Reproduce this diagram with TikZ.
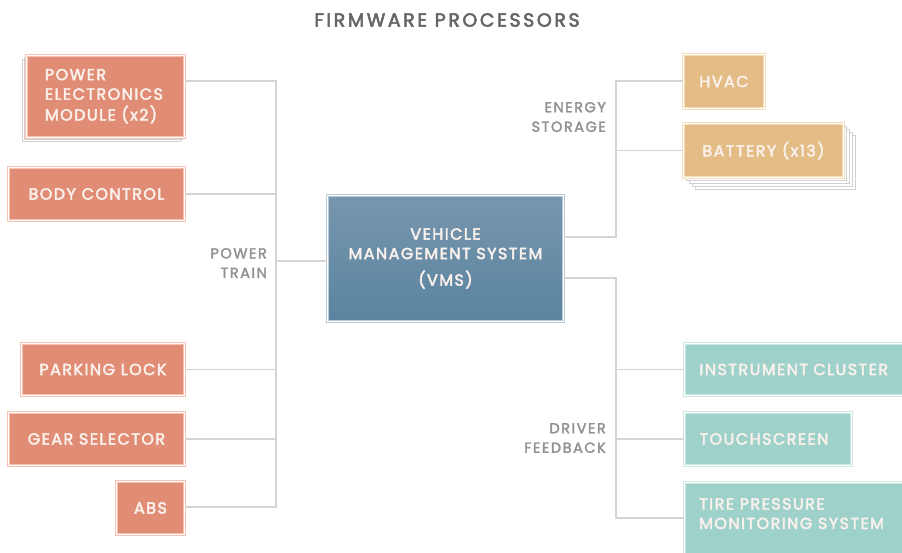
\documentclass[tikz,border=0pt]{standalone}
\usepackage{fontspec}
\setmainfont{Poppins}
\newfontfamily\boxfont[LetterSpace=9,FakeBold=2.8]{Poppins}
\newfontfamily\lblfont[LetterSpace=10.5,FakeBold=2.2]{Poppins}
\newfontfamily\titlefont[LetterSpace=13.5,FakeBold=2.8]{Poppins}
\definecolor{salfill}{HTML}{E18D76}
\definecolor{saledge}{HTML}{F6C3B3}
\definecolor{goldfill}{HTML}{E3BC86}
\definecolor{goldedge}{HTML}{F4DDB8}
\definecolor{tealfill}{HTML}{9FD1CB}
\definecolor{tealedge}{HTML}{CBE8E4}
\definecolor{vmstop}{HTML}{7896AD}
\definecolor{vmsbot}{HTML}{5A84A0}
\definecolor{vmsedge}{HTML}{B9CAD6}
\definecolor{linegray}{HTML}{D4D4D4}
\definecolor{lblgray}{HTML}{929292}
\definecolor{boxtext}{HTML}{FBF1EC}
\tikzset{
  basebox/.style={rectangle, anchor=north west, line width=0.9pt, double=white, double distance=0.9pt,
    text=boxtext, font=\boxfont\fontsize{16}{19.5}\selectfont, inner sep=0pt},
  salbox/.style={basebox, fill=salfill, draw=saledge},
  goldbox/.style={basebox, fill=goldfill, draw=goldedge},
  tealbox/.style={basebox, fill=tealfill, draw=tealedge},
  vmsbox/.style={basebox, top color=vmstop, bottom color=vmsbot, draw=vmsedge},
  stackbox/.style={rectangle, anchor=north west, fill=white, draw=black!18, line width=0.7pt, inner sep=0pt},
  conn/.style={draw=linegray, line width=1.3pt},
  grouplbl/.style={text=lblgray, font=\lblfont\fontsize{14.5}{19.5}\selectfont, align=right, anchor=east, inner sep=0pt}
}
\begin{document}
\begin{tikzpicture}[x=1pt,y=-1pt]
\useasboundingbox (0,0) rectangle (902,552);
\clip (0,0) rectangle (902,552);
\fill[white] (0,0) rectangle (902,552);
% title
\node[text=black!60, font=\titlefont\fontsize{19}{22}\selectfont, inner sep=0pt] (title) at (447,20) {FIRMWARE PROCESSORS};
% stacks
\node[stackbox, minimum width=158, minimum height=82] (pemS2) at (22,59) {};
\node[stackbox, minimum width=158, minimum height=82] (pemS1) at (24,57) {};
\foreach \o/\n in {12/b4,9/b3,6/b2,3/b1}{
  \node[stackbox, minimum width=160, minimum height=54] (bat\n) at (683+\o,123+\o) {};
}
% left boxes
\node[salbox, minimum width=158, minimum height=82] (pem) at (26,55) {\hspace*{-3pt}\begin{tabular}{@{}l@{}}POWER\\ELECTRONICS\\MODULE (x2)\end{tabular}};
\node[salbox, minimum width=176, minimum height=53] (body) at (8,167) {BODY CONTROL};
\node[salbox, minimum width=163, minimum height=52] (park) at (21,343) {PARKING LOCK};
\node[salbox, minimum width=176, minimum height=53] (gear) at (8,412) {GEAR SELECTOR};
\node[salbox, minimum width=68, minimum height=53] (abs) at (116,481) {ABS};
% vms
\node[vmsbox, minimum width=236, minimum height=126, align=center] (vms) at (327,195) {VEHICLE\\MANAGEMENT SYSTEM\\[7pt](VMS)};
% right boxes
\node[goldbox, minimum width=81, minimum height=54] (hvac) at (683,54) {HVAC};
\node[goldbox, minimum width=160, minimum height=54] (bat) at (683,123) {BATTERY (x13)};
\node[tealbox, minimum width=240, minimum height=52, text width=226, align=left] (cluster) at (684,343) {\hspace*{8pt}INSTRUMENT CLUSTER};
\node[tealbox, minimum width=167, minimum height=53, text width=153, align=left] (touch) at (684,412) {\hspace*{8pt}TOUCHSCREEN};
\node[tealbox, minimum width=240, minimum height=80] (tpms) at (684,482) {};
\node[text=boxtext, font=\boxfont\fontsize{16}{19.5}\selectfont, anchor=north west, align=left, inner sep=0pt] (tpmstext) at (699,498) {TIRE PRESSURE\\MONITORING SYSTEM};
% group labels
\node[grouplbl] (ptlbl) at (267,263) {POWER\\TRAIN};
\node[grouplbl] (eslbl) at (606,117) {ENERGY\\STORAGE};
\node[grouplbl] (dflbl) at (606,438) {DRIVER\\FEEDBACK};
% bus coordinates
\coordinate (ptTop) at (276,81);
\coordinate (ptBot) at (276,507);
\coordinate (ptMid) at (276,261);
\coordinate (esTop) at (616,81);
\coordinate (esBot) at (616,237);
\coordinate (dfTop) at (616,278);
\coordinate (dfBot) at (616,518);
% connectors
\draw[conn] (pem.east |- ptTop) -- (ptTop) -- (ptBot) -- (abs.east |- ptBot);
\draw[conn] (body.east) -- (body.east -| ptTop);
\draw[conn] (park.east) -- (park.east -| ptTop);
\draw[conn] (gear.east) -- (gear.east -| ptTop);
\draw[conn] (ptMid) -- (vms.west |- ptMid);
\draw[conn] (vms.east |- esBot) -- (esBot) -- (esTop) -- (hvac.west |- esTop);
\draw[conn] (esTop |- bat.west) -- (bat.west);
\draw[conn] (vms.east |- dfTop) -- (dfTop) -- (dfBot) -- (tpms.west |- dfBot);
\draw[conn] (dfTop |- cluster.west) -- (cluster.west);
\draw[conn] (dfTop |- touch.west) -- (touch.west);
\end{tikzpicture}
\end{document}
